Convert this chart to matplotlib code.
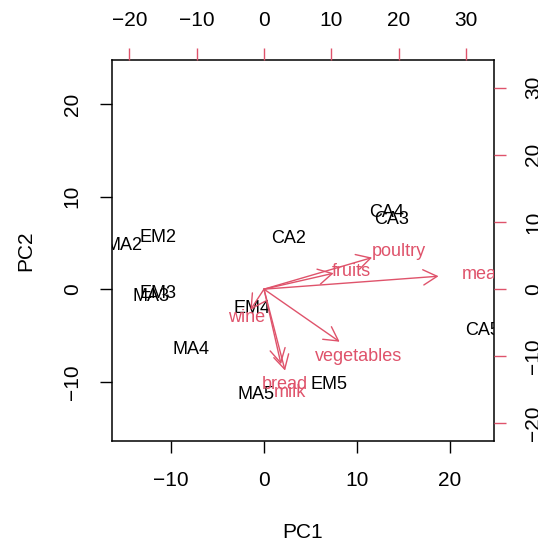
import matplotlib
matplotlib.use("Agg")
import matplotlib.pyplot as plt
from matplotlib.patches import FancyArrowPatch

plt.rcParams['font.family'] = ['Liberation Sans', 'DejaVu Sans']

# observation scores (PC1, PC2)
obs_names = ["MA2", "EM2", "CA2", "EM3", "MA3", "EM4", "MA4",
             "CA4", "CA3", "CA5", "EM5", "MA5"]
obs_pc1 = [-15.05, -11.44, 2.67, -11.36, -12.2, -1.34, -7.83,
           13.2, 13.7, 23.5, 6.96, -0.9]
obs_pc2 = [4.96, 5.82, 5.71, -0.2, -0.57, -1.9, -6.25,
           8.5, 7.76, -4.24, -10.1, -11.2]

# variable loadings (label positions, secondary axis units)
var_names = ["meat", "poultry", "fruits", "vegetables", "bread", "milk", "wine"]
var_pc1 = [32.4, 20.06, 12.93, 14.04, 3.16, 3.91, -2.53]
var_pc2 = [2.41, 5.88, 2.97, -9.79, -13.97, -15.16, -3.86]

prim_ticks = [-10, 0, 10, 20]
sec_ticks = [-20, -10, 0, 10, 20, 30]

RED = "#DF536B"
LIM = (-16.4, 24.8)
RATIO = 1.379
LIM2 = (LIM[0] * RATIO, LIM[1] * RATIO)
TICK_FS = 15
LAB_FS = 13

fig = plt.figure(figsize=(5.38, 5.44), dpi=100)
rect = [0.2076, 0.1893, 0.7112, 0.7013]
ax = fig.add_axes(rect)
ax.set_xlim(LIM)
ax.set_ylim(LIM)
ax.set_xticks(prim_ticks)
ax.set_yticks(prim_ticks)
ax.tick_params(length=8.5, width=1, pad=13, labelsize=TICK_FS)
ax.tick_params(axis='y', labelrotation=90)
for lbl in ax.get_yticklabels():
    lbl.set_va('center')
for sp in ax.spines.values():
    sp.set_linewidth(1.1)

for name, x, y in zip(obs_names, obs_pc1, obs_pc2):
    ax.text(x, y, name, ha='center', va='center_baseline', fontsize=LAB_FS,
            color='black', clip_on=True)

ax.set_xlabel("PC1", fontsize=TICK_FS)
ax.set_ylabel("PC2", fontsize=TICK_FS)
ax.xaxis.set_label_coords(0.5, -0.215)
ax.yaxis.set_label_coords(-0.2, 0.5)

# secondary axes for the loadings
ax2 = fig.add_axes(rect, frameon=False)
ax2.set_xlim(LIM2)
ax2.set_ylim(LIM2)
ax2.xaxis.tick_top()
ax2.yaxis.tick_right()
ax2.set_xticks(sec_ticks)
ax2.set_yticks(sec_ticks)
ax2.tick_params(length=8.5, width=1, pad=13, labelsize=TICK_FS, color=RED)
ax2.tick_params(axis='y', labelrotation=90)
for lbl in ax2.get_yticklabels():
    lbl.set_va('center')

for name, x, y in zip(var_names, var_pc1, var_pc2):
    arr = FancyArrowPatch((0, 0), (0.8 * x, 0.8 * y),
                          arrowstyle='->,head_length=1.0,head_width=0.55',
                          mutation_scale=10, shrinkA=0, shrinkB=0,
                          color=RED, lw=1.0)
    ax2.add_patch(arr)
    ax2.text(x, y, name, ha='center', va='center_baseline', fontsize=LAB_FS,
             color=RED, clip_on=True)

fig.savefig("out.png", dpi=100)
